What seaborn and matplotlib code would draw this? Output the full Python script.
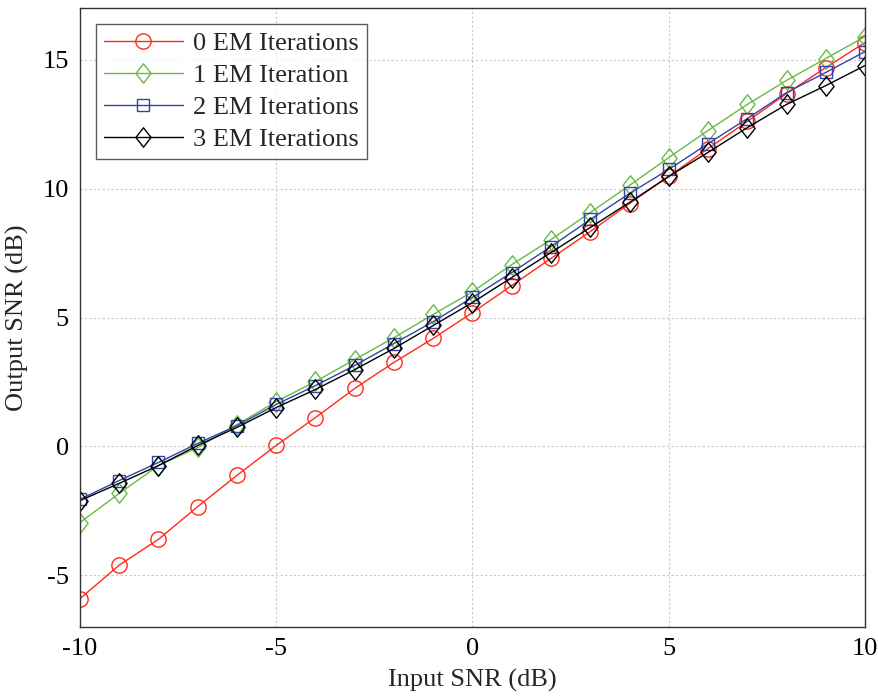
import matplotlib
matplotlib.use("Agg")
import matplotlib.pyplot as plt
from matplotlib.path import Path
import seaborn as sns
import pandas as pd
import numpy as np

input_snr = list(range(-10, 11))
em0 = [-5.9, -4.6, -3.6, -2.33, -1.12, 0.04, 1.12, 2.25, 3.26, 4.19, 5.19,
       6.24, 7.29, 8.33, 9.42, 10.47, 11.55, 12.6, 13.68, 14.69, 15.66]
em1 = [-2.95, -1.82, -0.74, -0.04, 0.85, 1.74, 2.52, 3.37, 4.22, 5.12, 6.0,
       7.05, 8.02, 9.07, 10.12, 11.2, 12.25, 13.26, 14.19, 15.04, 15.89]
em2 = [-2.05, -1.32, -0.62, 0.12, 0.81, 1.63, 2.36, 3.14, 3.99, 4.84, 5.78,
       6.74, 7.75, 8.8, 9.81, 10.74, 11.74, 12.71, 13.72, 14.5, 15.31]
em3 = [-2.1, -1.43, -0.74, 0.04, 0.74, 1.51, 2.21, 2.98, 3.8, 4.69, 5.58,
       6.55, 7.52, 8.49, 9.46, 10.47, 11.4, 12.36, 13.26, 13.99, 14.77]
labels = ["0 EM Iterations", "1 EM Iteration", "2 EM Iterations", "3 EM Iterations"]
colors = ["#ff2a1a", "#66bb44", "#3344aa", "#000000"]

# MATLAB-style diamond marker shape (slightly taller than wide)
diamond = Path([(0, -1), (0.78, 0), (0, 1), (-0.78, 0), (0, -1)],
               [Path.MOVETO, Path.LINETO, Path.LINETO, Path.LINETO, Path.CLOSEPOLY])
markers = ["o", diamond, "s", diamond]
msizes = [11, 14, 8.2, 14]

sns.set_style("white")
plt.rcParams['font.family'] = ['Liberation Serif', 'DejaVu Serif']
plt.rcParams['axes.unicode_minus'] = False

fig = plt.figure(figsize=(8.79, 6.98), dpi=100)
ax = fig.add_axes([80/879, 1 - 627/698, 785/879, 619/698])

for lab, ys, c, m, ms in zip(labels, [em0, em1, em2, em3], colors, markers, msizes):
    df = pd.DataFrame({"x": input_snr, "y": ys})
    sns.lineplot(data=df, x="x", y="y", ax=ax, color=c, marker=m,
                 markersize=ms, markerfacecolor="none", markeredgecolor=c,
                 markeredgewidth=1.0, linewidth=1.0, label=lab)

ax.set_xlim(-10, 10)
ax.set_ylim(-7, 17)
ax.set_xticks([-10, -5, 0, 5, 10])
ax.set_yticks([-5, 0, 5, 10, 15])
ax.grid(True, color="#c8c8c8", linestyle=(0, (2, 2)), linewidth=0.8)
ax.tick_params(direction="in", length=6, labelsize=19, colors="black", pad=8)
for s in ax.spines.values():
    s.set_color("#333333")
    s.set_linewidth(1.0)
ax.set_xlabel("Input SNR (dB)", fontsize=19, labelpad=6)
ax.set_ylabel("Output SNR (dB)", fontsize=19, labelpad=10)

leg = ax.legend(loc="upper left", fontsize=19, frameon=True, fancybox=False,
                edgecolor="#333333", handlelength=3.0, borderaxespad=0.6,
                labelspacing=0.32, handletextpad=0.4, borderpad=0.3)
leg.get_frame().set_linewidth(1.0)

fig.savefig("out.png", dpi=100)
